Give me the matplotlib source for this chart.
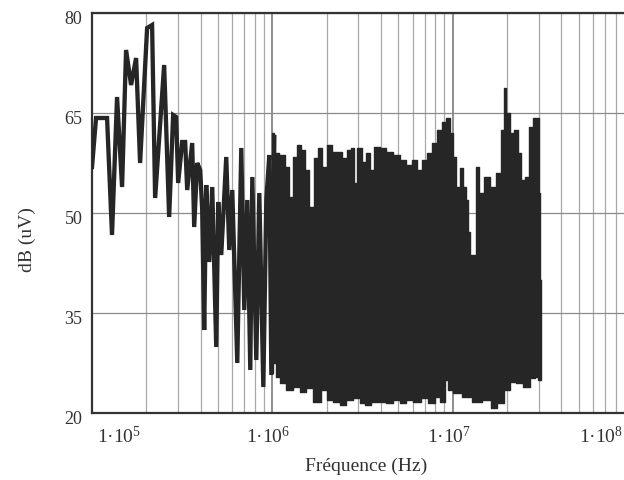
import matplotlib
matplotlib.use("Agg")
import matplotlib.pyplot as plt
import matplotlib.transforms as mtransforms
from matplotlib.ticker import LogLocator, NullFormatter

plt.rcParams['font.family'] = ['Liberation Serif', 'DejaVu Serif']
plt.rcParams['mathtext.fontset'] = 'custom'
plt.rcParams['mathtext.rm'] = 'Liberation Serif'
plt.rcParams['mathtext.it'] = 'Liberation Serif'

# Mesure basse frequence (trace lisible point par point)
freq_low = [1.00e5, 1.053e5, 1.212e5, 1.291e5, 1.377e5, 1.468e5, 1.545e5, 1.647e5,
            1.756e5, 1.848e5, 2.021e5, 2.154e5, 2.239e5, 2.512e5, 2.678e5, 2.818e5,
            2.929e5, 3.005e5, 3.162e5, 3.286e5, 3.372e5, 3.594e5, 3.687e5, 3.831e5,
            3.981e5, 4.084e5, 4.190e5, 4.299e5, 4.467e5, 4.642e5, 4.885e5, 5.012e5,
            5.208e5, 5.552e5, 5.769e5, 5.995e5, 6.392e5, 6.726e5, 6.989e5, 7.262e5,
            7.546e5, 7.743e5, 8.149e5, 8.467e5, 8.913e5, 9.261e5, 9.624e5, 9.873e5,
            1.026e6]
db_low = [56.9, 64.25, 64.25, 46.7, 67.4, 53.9, 74.45, 69.2,
          73.25, 57.5, 77.75, 78.2, 52.25, 72.2, 49.4, 64.7,
          64.4, 54.5, 60.65, 60.65, 53.45, 60.5, 47.9, 57.5,
          56.45, 50.45, 32.45, 54.2, 42.65, 53.9, 29.9, 51.65,
          43.7, 58.4, 44.45, 53.45, 27.5, 59.75, 35.45, 51.95,
          26.45, 55.4, 27.95, 53.0, 23.9, 51.95, 58.7, 25.7,
          61.4]

# Zone dense : enveloppe haute et basse
freq_up = [1.00e6, 1.05e6, 1.14e6, 1.21e6, 1.28e6, 1.33e6, 1.41e6, 1.47e6, 1.56e6,
           1.65e6, 1.76e6, 1.82e6, 1.94e6, 2.07e6, 2.21e6, 2.36e6, 2.51e6, 2.68e6,
           2.78e6, 2.89e6, 3.04e6, 3.25e6, 3.37e6, 3.55e6, 3.78e6, 4.08e6, 4.47e6,
           4.89e6, 5.28e6, 5.77e6, 6.15e6, 6.56e6, 6.99e6, 7.45e6, 7.94e6, 8.47e6,
           9.03e6, 9.38e6, 9.87e6, 1.026e7, 1.066e7, 1.122e7, 1.166e7, 1.196e7,
           1.227e7, 1.275e7, 1.325e7, 1.359e7, 1.449e7, 1.545e7, 1.668e7, 1.824e7,
           1.896e7, 1.945e7, 2.021e7, 2.127e7, 2.239e7, 2.357e7, 2.448e7, 2.577e7,
           2.748e7, 2.855e7, 2.967e7, 3.044e7, 3.084e7]
db_up = [62.0, 59.0, 58.7, 56.9, 52.4, 58.4, 60.2, 59.45, 56.45,
         50.9, 58.25, 59.75, 56.9, 60.2, 59.15, 59.15, 58.25, 59.45,
         59.75, 54.5, 59.75, 57.65, 59.0, 56.45, 59.9, 59.75, 59.15,
         58.7, 57.95, 57.2, 57.95, 56.45, 57.95, 59.0, 60.5, 62.45,
         63.65, 64.25, 62.0, 58.4, 53.9, 56.75, 53.9, 51.95,
         47.15, 43.7, 43.7, 56.9, 53.0, 55.4, 53.9, 56.0,
         62.45, 68.75, 65.0, 62.0, 62.45, 59.0, 54.95, 55.4,
         62.9, 64.25, 64.25, 53.0, 24.95]

freq_lo = [9.87e5, 1.026e6, 1.066e6, 1.14e6, 1.24e6, 1.36e6, 1.47e6, 1.61e6, 1.76e6,
           1.94e6, 2.07e6, 2.27e6, 2.45e6, 2.68e6, 2.93e6, 3.16e6, 3.33e6, 3.69e6,
           4.08e6, 4.47e6, 4.89e6, 5.28e6, 5.77e6, 6.31e6, 6.99e6, 7.64e6, 8.25e6,
           8.80e6, 9.26e6, 9.62e6, 1.05e7, 1.196e7, 1.359e7, 1.545e7, 1.71e7, 1.824e7,
           2.021e7, 2.15e7, 2.357e7, 2.577e7, 2.78e7, 2.93e7, 3.044e7]
db_lo = [26.0, 27.5, 25.4, 24.5, 23.45, 23.9, 23.15, 23.75, 21.65,
         23.45, 21.95, 21.65, 21.2, 21.95, 22.25, 21.5, 21.2, 21.65,
         21.65, 21.5, 21.95, 21.5, 21.95, 21.65, 22.25, 21.5, 22.4,
         21.65, 24.95, 23.45, 23.0, 22.4, 21.65, 21.95, 20.75, 21.5,
         23.45, 24.65, 24.5, 23.9, 25.25, 25.4, 24.95]

y_ticks = [20, 35, 50, 65, 80]
x_ticks = [1e5, 1e6, 1e7, 1e8]
x_labels = ["1·10$^{5}$", "1·10$^{6}$", "1·10$^{7}$", "1·10$^{8}$"]

ink = "#262626"
mid = 40  # niveau de jonction des deux remplissages

fig = plt.figure(figsize=(6.24, 4.8), dpi=100)
ax = fig.add_axes([92/624, 67/480, 541/624, 400/480])

ax.plot(freq_low, db_low, color=ink, lw=3.1, solid_joinstyle='miter', zorder=3)
ax.fill_between(freq_up, db_up, mid, step='mid', facecolor=ink, edgecolor=ink,
                lw=1.0, zorder=3)
ax.fill_between(freq_lo, db_lo, mid, step='mid', facecolor=ink, edgecolor=ink,
                lw=1.0, zorder=3)

ax.set_xscale('log')
ax.set_xlim(1e5, 1e8)
ax.set_ylim(20, 80)
ax.set_yticks(y_ticks)
ax.set_xticks(x_ticks)
ax.set_xticklabels(x_labels)
ax.xaxis.set_minor_locator(LogLocator(base=10, subs=range(2, 10)))
ax.xaxis.set_minor_formatter(NullFormatter())

ax.grid(True, which='minor', axis='x', color='#a8a8a8', lw=0.9, zorder=0)
ax.grid(True, which='major', axis='x', color='#707070', lw=1.1, zorder=0)
ax.grid(True, which='major', axis='y', color='#8a8a8a', lw=0.9, zorder=0)
ax.set_axisbelow(True)

ax.tick_params(which='both', length=0)
ax.tick_params(axis='y', labelsize=13, pad=7, labelcolor='#333333')
ax.tick_params(axis='x', labelsize=14, pad=9, labelcolor='#333333')

for sp in ['left', 'bottom', 'top', 'right']:
    ax.spines[sp].set_color('#333333')
    ax.spines[sp].set_linewidth(1.6)

# decalages des etiquettes (style Mathcad)
for lab in ax.get_yticklabels():
    lab.set_transform(lab.get_transform() +
                      mtransforms.ScaledTranslation(0, -5/100, fig.dpi_scale_trans))
xl = ax.get_xticklabels()
for i, lab in enumerate(xl):
    if i == 0:
        lab.set_horizontalalignment('left')
        dx = 5
    elif i == len(xl) - 1:
        lab.set_horizontalalignment('right')
        dx = -10
    else:
        dx = -4
    lab.set_transform(lab.get_transform() +
                      mtransforms.ScaledTranslation(dx/100, 0, fig.dpi_scale_trans))

fig.text(366/624, 1 - 466/480, "Fréquence (Hz)", ha='center', va='center',
         fontsize=14, color='#333333')
fig.text(27/624, 1 - 240/480, "dB (uV)", ha='center', va='center',
         rotation=90, fontsize=14, color='#333333')

fig.savefig("out.png", dpi=100)
